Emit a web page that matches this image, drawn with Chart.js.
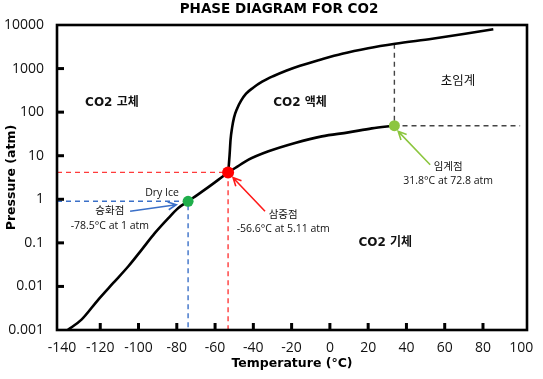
<!DOCTYPE html>
<html>
<head>
<meta charset="utf-8">
<script src="https://cdn.jsdelivr.net/npm/chart.js@4/dist/chart.umd.min.js"></script>
<style>
  html, body { margin: 0; padding: 0; background: #fff; }
</style>
</head>
<body>
<canvas id="phase" width="543" height="379"></canvas>
<script>
// values: temperature (°C) / pressure (atm)
const sublimationT = [-137, -129.8, -121, -113.2, -105.3, -98.3, -91.4, -84.4, -79.2, -74.1, -67, -60.1, -53.2];
const sublimationP = [0.001, 0.00173, 0.005, 0.012, 0.029, 0.07, 0.169, 0.37, 0.63, 0.9, 1.48, 2.45, 4.14];
const meltingT = [-53.1, -52.4, -51.9, -51.1, -50.1, -48.5, -46.4, -43.8, -40.1, -35.4, -29.7, -22.9, -15.6, -5.1, 6.4, 20, 34.1, 53.5, 70.7, 85.4];
const meltingP = [4.14, 10.6, 23.3, 44, 75, 120, 183, 265, 364, 500, 668, 895, 1165, 1600, 2200, 2940, 3720, 4850, 6310, 8020];
const boilingT = [-53.2, -49.5, -42.5, -32.1, -18.2, -4.2, 9.7, 21.9, 33.7];
const boilingP = [4.14, 5.23, 8.1, 12.6, 19.6, 27.8, 34.3, 42.4, 48.9];

const dryIcePoint = [-74.1, 0.9];
const triplePoint = [-53.2, 4.14];
const criticalPoint = [33.7, 48.9];
const criticalTop = 3700;     // where the dashed line meets the upper curve
const criticalRight = 99.4;   // end of the horizontal dashed line

const tempTicks = [-140, -120, -100, -80, -60, -40, -20, 0, 20, 40, 60, 80, 100];
const pressureTicks = [0.001, 0.01, 0.1, 1, 10, 100, 1000, 10000];
const tempMin = -142.6;
const tempMax = 103;

const FONT = '"Open Sans", "Noto Sans CJK KR", sans-serif';
const BOLD = '"DejaVu Sans", "Noto Sans CJK KR", sans-serif';

const zip = (xs, ys) => xs.map((x, i) => ({ x: x, y: ys[i] }));

const curve = (xs, ys) => ({
  data: zip(xs, ys),
  showLine: true,
  borderColor: '#000',
  borderWidth: 2.6,
  pointRadius: 0,
  cubicInterpolationMode: 'monotone'
});

const dashed = (pts, color) => ({
  data: pts.map(p => ({ x: p[0], y: p[1] })),
  showLine: true,
  borderColor: color,
  borderWidth: 1.4,
  borderDash: [5, 4],
  pointRadius: 0
});

const dot = (p, color, r) => ({
  data: [{ x: p[0], y: p[1] }],
  pointRadius: r,
  pointBackgroundColor: color,
  pointBorderWidth: 0,
  showLine: false
});

// text labels, anchored in data coordinates
const notes = [
  { text: 'CO2 고체', t: -113.9, p: 164, font: 'bold 12px ' + BOLD },
  { text: 'CO2 액체', t: -15.6, p: 164, font: 'bold 12px ' + BOLD },
  { text: '초임계', t: 67, p: 500, font: '12.5px ' + FONT },
  { text: 'CO2 기체', t: 28.9, p: 0.1, font: 'bold 12px ' + BOLD },
  { text: 'Dry Ice', t: -87.7, p: 1.42, font: '10.5px ' + FONT },
  { text: '승화점', t: -115, p: 0.53, font: '10.5px ' + FONT },
  { text: '-78.5°C at 1 atm', t: -115, p: 0.248, font: '10.5px ' + FONT },
  { text: '삼중점', t: -24.4, p: 0.44, font: '10.5px ' + FONT },
  { text: '-56.6°C at 5.11 atm', t: -24.4, p: 0.21, font: '10.5px ' + FONT },
  { text: '임계점', t: 61.8, p: 5.6, font: '10.5px ' + FONT },
  { text: '31.8°C at 72.8 atm', t: 61.8, p: 2.67, font: '10.5px ' + FONT }
];

const arrows = [
  { from: [-104.4, 0.53], to: [-80.3, 0.75], color: '#3b70c8' },
  { from: [-33.9, 0.53], to: [-50.6, 3.13], color: '#ff1a1a' },
  { from: [52.4, 6.2], to: [35.7, 36.2], color: '#8cc63f' }
];

const decorations = {
  id: 'decorations',
  afterDatasetsDraw(chart) {
    const ctx = chart.ctx;
    const a = chart.chartArea;
    const xs = chart.scales.x;
    const ys = chart.scales.y;
    ctx.save();

    // inward tick marks
    ctx.strokeStyle = '#000';
    ctx.lineWidth = 3;
    tempTicks.slice(1, -1).forEach(t => {
      const px = xs.getPixelForValue(t);
      ctx.beginPath();
      ctx.moveTo(px, a.bottom);
      ctx.lineTo(px, a.bottom - 7);
      ctx.stroke();
    });
    pressureTicks.slice(1, -1).forEach(p => {
      const py = ys.getPixelForValue(p);
      ctx.beginPath();
      ctx.moveTo(a.left, py);
      ctx.lineTo(a.left + 7, py);
      ctx.stroke();
    });

    // frame
    ctx.lineWidth = 2.6;
    ctx.strokeRect(a.left, a.top, a.right - a.left, a.bottom - a.top);

    // arrows
    arrows.forEach(ar => {
      const x1 = xs.getPixelForValue(ar.from[0]), y1 = ys.getPixelForValue(ar.from[1]);
      const x2 = xs.getPixelForValue(ar.to[0]), y2 = ys.getPixelForValue(ar.to[1]);
      const ang = Math.atan2(y2 - y1, x2 - x1);
      ctx.strokeStyle = ar.color;
      ctx.lineWidth = 1.6;
      ctx.beginPath();
      ctx.moveTo(x1, y1);
      ctx.lineTo(x2, y2);
      ctx.moveTo(x2 - 9 * Math.cos(ang - 0.45), y2 - 9 * Math.sin(ang - 0.45));
      ctx.lineTo(x2, y2);
      ctx.lineTo(x2 - 9 * Math.cos(ang + 0.45), y2 - 9 * Math.sin(ang + 0.45));
      ctx.stroke();
    });

    // labels
    ctx.fillStyle = '#111';
    ctx.textAlign = 'center';
    ctx.textBaseline = 'middle';
    notes.forEach(n => {
      ctx.font = n.font;
      ctx.fillText(n.text, xs.getPixelForValue(n.t), ys.getPixelForValue(n.p));
    });

    // title
    ctx.font = 'bold 13.5px ' + BOLD;
    ctx.fillStyle = '#000';
    ctx.fillText('PHASE DIAGRAM FOR CO2', (a.left + a.right) / 2 - 13, 9);
    ctx.restore();
  }
};

new Chart(document.getElementById('phase'), {
  type: 'scatter',
  data: {
    datasets: [
      dot(triplePoint, '#ff0000', 6),
      dot(dryIcePoint, '#1fae4b', 5.5),
      dot(criticalPoint, '#8cc63f', 5.5),
      curve(sublimationT, sublimationP),
      curve(meltingT, meltingP),
      curve(boilingT, boilingP),
      dashed([[tempMin, triplePoint[1]], triplePoint, [triplePoint[0], 0.001]], '#ff3b3b'),
      dashed([[tempMin, dryIcePoint[1]], dryIcePoint, [dryIcePoint[0], 0.001]], '#3b70c8'),
      dashed([[criticalPoint[0], criticalTop], criticalPoint, [criticalRight, criticalPoint[1]]], '#444')
    ]
  },
  options: {
    responsive: false,
    animation: false,
    layout: { padding: { top: 25, right: 16, left: 0, bottom: 0 } },
    plugins: {
      legend: { display: false },
      tooltip: { enabled: false },
      title: { display: false }
    },
    scales: {
      x: {
        type: 'linear',
        min: tempMin,
        max: tempMax,
        afterBuildTicks: s => { s.ticks = tempTicks.map(v => ({ value: v })); },
        afterFit: s => { s.height = 49; },
        grid: { display: false },
        border: { display: false },
        ticks: {
          color: '#111',
          padding: 2,
          maxRotation: 0,
          autoSkip: false,
          font: { family: FONT, size: 14 },
          callback: v => String(v)
        },
        title: {
          display: true,
          text: 'Temperature (°C)',
          color: '#000',
          font: { family: BOLD, size: 12.5, weight: 'bold' },
          padding: { top: 0, bottom: 8 }
        }
      },
      y: {
        type: 'logarithmic',
        min: 0.001,
        max: 10000,
        afterBuildTicks: s => { s.ticks = pressureTicks.map(v => ({ value: v })); },
        afterFit: s => { s.width = 57; },
        grid: { display: false },
        border: { display: false },
        ticks: {
          color: '#111',
          padding: 5,
          font: { family: FONT, size: 14 },
          callback: v => String(v)
        },
        title: {
          display: true,
          text: 'Pressure (atm)',
          color: '#000',
          font: { family: BOLD, size: 12.5, weight: 'bold' },
          padding: { top: 4, bottom: 0 }
        }
      }
    }
  },
  plugins: [decorations]
});
</script>
</body>
</html>
